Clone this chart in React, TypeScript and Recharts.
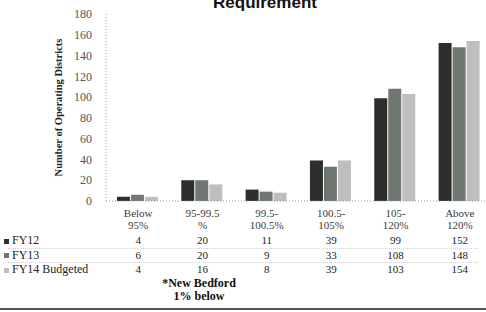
import { BarChart, Bar, XAxis, YAxis } from "recharts";

// category labels, split over two lines as in the source table
const catTop = ["Below", "95-99.5", "99.5-", "100.5-", "105-", "Above"];
const catBottom = ["95%", "%", "100.5%", "105%", "120%", "120%"];

const fy12 = [4, 20, 11, 39, 99, 152];
const fy13 = [6, 20, 9, 33, 108, 148];
const fy14 = [4, 16, 8, 39, 103, 154];

const seriesNames = ["FY12", "FY13", "FY14 Budgeted"];
const seriesKeys = ["fy12", "fy13", "fy14"];
const seriesColors = ["#2d2e2d", "#6f7870", "#bdbebd"];
const yTicks = [0, 20, 40, 60, 80, 100, 120, 140, 160, 180];

const data = catTop.map((t, i) => ({
	cat: t + " " + catBottom[i],
	fy12: fy12[i],
	fy13: fy13[i],
	fy14: fy14[i],
}));

const serif = "'Liberation Serif', 'DejaVu Serif', serif";

// x tick draws the category label plus the data-table column under it
function TableTick(props: any) {
	const { x, y, index } = props;
	const vals = [fy12[index], fy13[index], fy14[index]];
	return (
		<g fontFamily={serif} fontSize={11} textAnchor="middle">
			<text x={x} y={y + 16} fill="#3a3a3a">
				{catTop[index]}
			</text>
			<text x={x} y={y + 28} fill="#3a3a3a">
				{catBottom[index]}
			</text>
			{vals.map((v, k) => (
				<text key={k} x={x} y={y + 43 + k * 14.5} fill="#222">
					{v}
				</text>
			))}
		</g>
	);
}

export default function App() {
	return (
		<div
			style={{
				position: "absolute",
				left: 0,
				top: 0,
				width: 486,
				height: 312,
				overflow: "hidden",
				background: "#fff",
			}}
		>
			<div
				style={{
					position: "absolute",
					left: 0,
					top: -7,
					width: 486,
					textAlign: "center",
					paddingLeft: 22,
					fontFamily: "'Liberation Sans', Arial, sans-serif",
					fontWeight: 900,
					fontSize: 17,
					color: "#111",
				}}
			>
				Requirement
			</div>

			<BarChart
				width={500}
				height={312}
				data={data}
				margin={{ top: 14, right: 8, bottom: 0, left: 0 }}
				barCategoryGap="17%"
				barGap={1}
			>
				<YAxis
					width={106}
					domain={[0, 180]}
					ticks={yTicks}
					interval={0}
					tickLine={false}
					axisLine={{ stroke: "#9a9a9a", strokeDasharray: "1 2" }}
					tick={{ fontFamily: serif, fontSize: 12, fill: "#555" }}
					tickMargin={8}
					label={{
						value: "Number of Operating Districts",
						angle: -90,
						position: "insideLeft",
						offset: 58,
						style: {
							fontFamily: serif,
							fontWeight: 700,
							fontSize: 10.5,
							fill: "#222",
							textAnchor: "middle",
						},
					}}
				/>
				<XAxis
					dataKey="cat"
					height={111}
					interval={0}
					tickLine={false}
					tickSize={0}
					tickMargin={0}
					axisLine={{ stroke: "#9a9a9a", strokeDasharray: "1 2" }}
					tick={<TableTick />}
				/>
				{seriesKeys.map((k, i) => (
					<Bar
						key={k}
						dataKey={k}
						name={seriesNames[i]}
						fill={seriesColors[i]}
						isAnimationActive={false}
					/>
				))}
			</BarChart>

			{/* row labels of the data table */}
			{seriesNames.map((n, i) => (
				<div
					key={n}
					style={{
						position: "absolute",
						left: 4,
						top: 233 + i * 14.5,
						fontFamily: serif,
						fontSize: 12,
						lineHeight: "14px",
						color: "#222",
						whiteSpace: "nowrap",
					}}
				>
					<span
						style={{
							display: "inline-block",
							width: 5,
							height: 5,
							background: seriesColors[i],
							marginRight: 3,
							verticalAlign: "middle",
						}}
					/>
					{n}
				</div>
			))}

			{/* faint rules between table rows */}
			{[248, 262].map((t) => (
				<div
					key={t}
					style={{
						position: "absolute",
						left: 8,
						top: t,
						width: 470,
						borderTop: "1px dotted #cfcfcf",
					}}
				/>
			))}

			<div
				style={{
					position: "absolute",
					left: 149,
					top: 277,
					width: 100,
					textAlign: "center",
					fontFamily: serif,
					fontWeight: 700,
					fontSize: 12,
					lineHeight: "13px",
					color: "#111",
				}}
			>
				*New Bedford
				<br />
				1% below
			</div>

			<div
				style={{
					position: "absolute",
					left: 0,
					top: 308,
					width: 486,
					borderTop: "2px solid #555",
				}}
			/>
		</div>
	);
}
